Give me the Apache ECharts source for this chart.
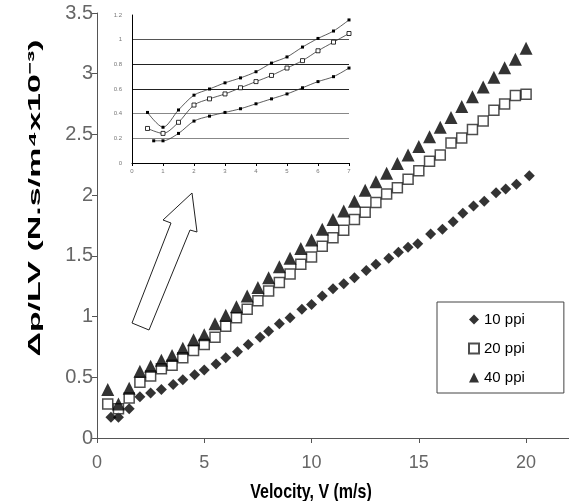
<!DOCTYPE html>
<html>
<head>
<meta charset="utf-8">
<script src="https://cdn.jsdelivr.net/npm/echarts@6/dist/echarts.min.js"></script>
<style>
html, body { margin: 0; padding: 0; background: #fff; }
#picture { width: 569px; height: 501px; }
</style>
</head>
<body>
<div id="picture"></div>
<script>
var seriesNames = ['10 ppi', '20 ppi', '40 ppi'];

// main chart: velocity (m/s) vs dp/LV
var velocity10 = [0.65, 1, 1.5, 2, 2.5, 3, 3.55, 4, 4.55, 5, 5.55, 6, 6.55, 7.05, 7.6, 8, 8.5, 9, 9.55, 10,
    10.5, 11, 11.5, 12, 12.55, 13, 13.6, 14.05, 14.5, 14.95, 15.55, 16.1, 16.6, 17.05, 17.55, 18.05, 18.6, 19.05, 19.55, 20.15];
var ppi10 = [0.17, 0.17, 0.24, 0.34, 0.37, 0.40, 0.44, 0.48, 0.52, 0.56, 0.61, 0.66, 0.71, 0.77, 0.83, 0.88, 0.94, 0.99, 1.06, 1.10,
    1.17, 1.23, 1.27, 1.32, 1.38, 1.43, 1.48, 1.53, 1.57, 1.60, 1.68, 1.72, 1.78, 1.85, 1.91, 1.95, 2.02, 2.05, 2.09, 2.16];

var velocity = [0.5, 1, 1.5, 2, 2.5, 3, 3.5, 4, 4.5, 5, 5.5, 6, 6.5, 7, 7.5, 8, 8.5, 9, 9.5, 10,
    10.5, 11, 11.5, 12, 12.5, 13, 13.5, 14, 14.5, 15, 15.5, 16, 16.5, 17, 17.5, 18, 18.5, 19, 19.5, 20];
var ppi20 = [0.28, 0.24, 0.33, 0.46, 0.51, 0.57, 0.60, 0.66, 0.72, 0.77, 0.83, 0.92, 0.99, 1.06, 1.13, 1.21, 1.28, 1.35, 1.43, 1.49,
    1.58, 1.65, 1.71, 1.80, 1.86, 1.94, 2.01, 2.06, 2.13, 2.20, 2.28, 2.33, 2.43, 2.47, 2.54, 2.61, 2.70, 2.75, 2.82, 2.83];
var ppi40 = [0.40, 0.28, 0.41, 0.55, 0.59, 0.64, 0.68, 0.74, 0.81, 0.85, 0.94, 1.01, 1.08, 1.17, 1.24, 1.32, 1.41, 1.48, 1.56, 1.63,
    1.72, 1.80, 1.87, 1.95, 2.04, 2.11, 2.18, 2.26, 2.33, 2.40, 2.48, 2.56, 2.64, 2.73, 2.81, 2.89, 2.97, 3.05, 3.12, 3.21];

// inset (zoom on 0-7 m/s)
var insetVelocity = [0.5, 1, 1.5, 2, 2.5, 3, 3.5, 4, 4.5, 5, 5.5, 6, 6.5, 7];
var insetVelocityLow = [0.7, 1, 1.5, 2, 2.5, 3, 3.5, 4, 4.5, 5, 5.5, 6, 6.5, 7];
var insetLow = [0.18, 0.18, 0.24, 0.34, 0.38, 0.41, 0.44, 0.48, 0.52, 0.56, 0.61, 0.66, 0.70, 0.77];
var insetMid = [0.28, 0.24, 0.33, 0.47, 0.52, 0.56, 0.61, 0.66, 0.71, 0.77, 0.83, 0.91, 0.98, 1.05];
var insetHigh = [0.41, 0.29, 0.43, 0.55, 0.60, 0.65, 0.69, 0.74, 0.81, 0.86, 0.94, 1.01, 1.07, 1.16];

var xTitle = 'Velocity, V (m/s)';
var yTitle = '\u0394p/LV (N.s/m\u2074x10\u207B\u00B3)';

function pairs(xs, ys) {
    return xs.map(function (x, i) { return [x, ys[i]]; });
}

var font = '"Liberation Sans", Arial, sans-serif';
var myChart = echarts.init(document.getElementById('picture'));
var option = {
    animation: false,
    backgroundColor: '#fff',
    textStyle: { fontFamily: font },
    grid: [
        { left: 97, top: 13, right: 0, bottom: 63 },
        { left: 132, top: 15, width: 217, height: 148 }
    ],
    xAxis: [
        {
            type: 'value', min: 0, max: 22, interval: 5,
            axisLine: { lineStyle: { color: '#555', width: 1 } },
            axisTick: { length: 5, lineStyle: { color: '#555' } },
            axisLabel: { fontSize: 18, color: '#666', margin: 16, showMaxLabel: false },
            splitLine: { show: false }
        },
        {
            type: 'value', gridIndex: 1, min: 0, max: 7, interval: 1,
            axisLine: { lineStyle: { color: '#000', width: 1 } },
            axisTick: { length: 3, lineStyle: { color: '#000' } },
            axisLabel: { fontSize: 6, color: '#777', margin: 5 },
            splitLine: { show: false }
        }
    ],
    yAxis: [
        {
            type: 'value', min: 0, max: 3.5, interval: 0.5,
            axisLine: { show: true, lineStyle: { color: '#555', width: 1 } },
            axisTick: { show: true, length: 5, lineStyle: { color: '#555' } },
            axisLabel: { fontSize: 20, color: '#666', margin: 4 },
            splitLine: { show: false }
        },
        {
            type: 'value', gridIndex: 1, min: 0, max: 1.2, interval: 0.2,
            axisLine: { show: true, lineStyle: { color: '#000', width: 1 } },
            axisTick: { show: false },
            axisLabel: { fontSize: 6, color: '#777', margin: 10 },
            splitLine: {
                show: true, showMinLine: true, showMaxLine: false,
                lineStyle: { color: ['#000', '#888', '#888', '#222', '#222', '#555'], width: 1.2 }
            }
        }
    ],
    legend: {
        orient: 'vertical',
        left: 437, top: 302,
        padding: [10, 39, 8, 31],
        itemGap: 14, itemWidth: 10, itemHeight: 10,
        borderColor: '#444', borderWidth: 1,
        textStyle: { fontSize: 15, color: '#000', fontFamily: font },
        data: seriesNames
    },
    series: [
        {
            name: seriesNames[0], type: 'scatter',
            symbol: 'diamond', symbolSize: 11,
            itemStyle: { color: '#000' },
            data: pairs(velocity10, ppi10)
        },
        {
            name: seriesNames[1], type: 'scatter',
            symbol: 'rect', symbolSize: 10,
            itemStyle: { color: '#fff', borderColor: '#222', borderWidth: 1.5 },
            data: pairs(velocity, ppi20)
        },
        {
            name: seriesNames[2], type: 'scatter',
            symbol: 'triangle', symbolSize: 13,
            itemStyle: { color: '#000' },
            data: pairs(velocity, ppi40)
        },
        {
            name: 'inset low', type: 'line', xAxisIndex: 1, yAxisIndex: 1,
            smooth: 0.3, symbol: 'rect', symbolSize: 3,
            lineStyle: { color: '#333', width: 0.8 }, itemStyle: { color: '#000' },
            data: pairs(insetVelocityLow, insetLow)
        },
        {
            name: 'inset mid', type: 'line', xAxisIndex: 1, yAxisIndex: 1,
            smooth: 0.3, symbol: 'rect', symbolSize: 4,
            lineStyle: { color: '#333', width: 0.8 },
            itemStyle: { color: '#fff', borderColor: '#000', borderWidth: 0.8 },
            data: pairs(insetVelocity, insetMid)
        },
        {
            name: 'inset high', type: 'line', xAxisIndex: 1, yAxisIndex: 1,
            smooth: 0.3, symbol: 'rect', symbolSize: 3,
            lineStyle: { color: '#333', width: 0.8 }, itemStyle: { color: '#000' },
            data: pairs(insetVelocity, insetHigh)
        }
    ],
    graphic: [
        {
            type: 'polygon',
            shape: { points: [[192, 193], [197, 232], [190, 230], [149, 330], [132, 323], [171, 223], [163, 220]] },
            style: { fill: '#fff', stroke: '#222', lineWidth: 1 }
        },
        {
            type: 'text', x: 35, y: 198, rotation: Math.PI / 2, scaleX: 2.0,
            style: { text: yTitle, font: 'bold 17px ' + font, textAlign: 'center', textVerticalAlign: 'middle', fill: '#000' }
        },
        {
            type: 'text', x: 311, y: 492, scaleY: 1.3,
            style: { text: xTitle, font: 'bold 16px ' + font, textAlign: 'center', textVerticalAlign: 'middle', fill: '#000' }
        }
    ]
};
myChart.setOption(option);
</script>
</body>
</html>
